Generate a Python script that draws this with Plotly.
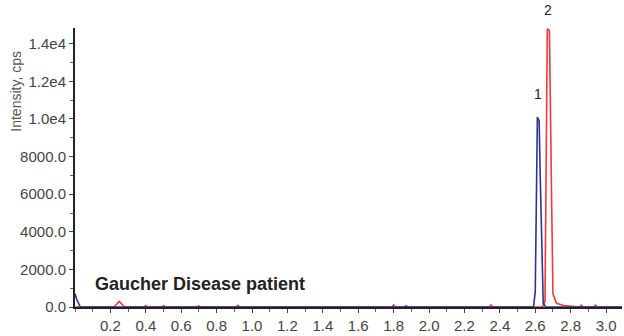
import plotly.graph_objects as go

# retention time (min) and intensity (cps)
blue_time = [0.0, 0.01, 0.03, 1.86, 1.87, 1.88, 2.59, 2.600, 2.612, 2.622, 2.628, 2.645, 2.66, 3.09]
blue_int = [700, 400, 0, 0, 60, 0, 0, 800, 10100, 9900, 7000, 200, 0, 0]

red_time = [0.0, 0.22, 0.25, 0.28, 0.39, 0.40, 0.41, 0.49, 0.50, 0.51, 0.69, 0.70, 0.71,
            0.91, 0.92, 0.93, 1.79, 1.80, 1.81, 2.34, 2.35, 2.36, 2.64, 2.655, 2.668, 2.68,
            2.692, 2.70, 2.72, 2.76, 2.85, 2.86, 2.87, 2.93, 2.94, 2.95, 3.09]
red_int = [0, 0, 300, 0, 0, 80, 0, 0, 70, 0, 0, 60, 0,
           0, 90, 0, 0, 110, 0, 0, 110, 0, 0, 300, 14800, 14700,
           6000, 700, 200, 80, 0, 100, 0, 0, 100, 0, 0]

x_ticks = [0.2, 0.4, 0.6, 0.8, 1.0, 1.2, 1.4, 1.6, 1.8, 2.0, 2.2, 2.4, 2.6, 2.8, 3.0]
x_labels = ["0.2", "0.4", "0.6", "0.8", "1.0", "1.2", "1.4", "1.6", "1.8", "2.0", "2.2", "2.4", "2.6", "2.8", "3.0"]
y_ticks = [0, 2000, 4000, 6000, 8000, 10000, 12000, 14000]
y_labels = ["0.0", "2000.0", "4000.0", "6000.0", "8000.0", "1.0e4", "1.2e4", "1.4e4"]

peak_labels = ["1", "2"]
peak_x = [2.615, 2.672]

fig = go.Figure()
fig.add_trace(go.Scatter(x=red_time, y=red_int, mode='lines',
                         line=dict(color='#f2383c', width=1.6), showlegend=False))
fig.add_trace(go.Scatter(x=blue_time, y=blue_int, mode='lines',
                         line=dict(color='#2c3593', width=1.6), showlegend=False))

# peak numbers sit above each apex (paper y so "2" can go above the plot area)
for t, px, py in zip(peak_labels, peak_x, [0.765, 1.063]):
    fig.add_annotation(x=px, y=py, yref='paper', text=t, showarrow=False,
                       font=dict(size=14, color='#222'), xanchor='center', yanchor='middle')

fig.add_annotation(x=0.1, y=1250, text='<b>Gaucher Disease patient</b>', showarrow=False,
                   xanchor='left', yanchor='middle', font=dict(size=18, color='#222'))

fig.add_annotation(xref='paper', yref='paper', x=-0.108, y=0.775, text='Intensity, cps',
                   textangle=-90, showarrow=False, xanchor='center', yanchor='middle',
                   font=dict(size=14, color='#555'))

fig.update_layout(
    width=624, height=336,
    margin=dict(l=75, r=2, t=28, b=24),
    paper_bgcolor='white', plot_bgcolor='white',
    font=dict(family='Liberation Sans, Arial, sans-serif', color='#444', size=15),
    xaxis=dict(range=[0, 3.09], tickvals=x_ticks, ticktext=x_labels,
               showgrid=False, zeroline=False, showline=True, linecolor='#222', linewidth=2,
               ticks='outside', ticklen=4, tickcolor='#444',
               minor=dict(dtick=0.1, tick0=0, ticks='outside', ticklen=3, tickcolor='#666')),
    yaxis=dict(range=[0, 14840], tickvals=y_ticks, ticktext=y_labels,
               showgrid=False, zeroline=False, showline=True, linecolor='#222', linewidth=2,
               ticks='outside', ticklen=4, tickcolor='#444',
               minor=dict(dtick=1000, tick0=0, ticks='outside', ticklen=3, tickcolor='#666')),
)

fig.write_html("out.html", config={'displayModeBar': False},
               post_script="document.body.style.margin='0';")
